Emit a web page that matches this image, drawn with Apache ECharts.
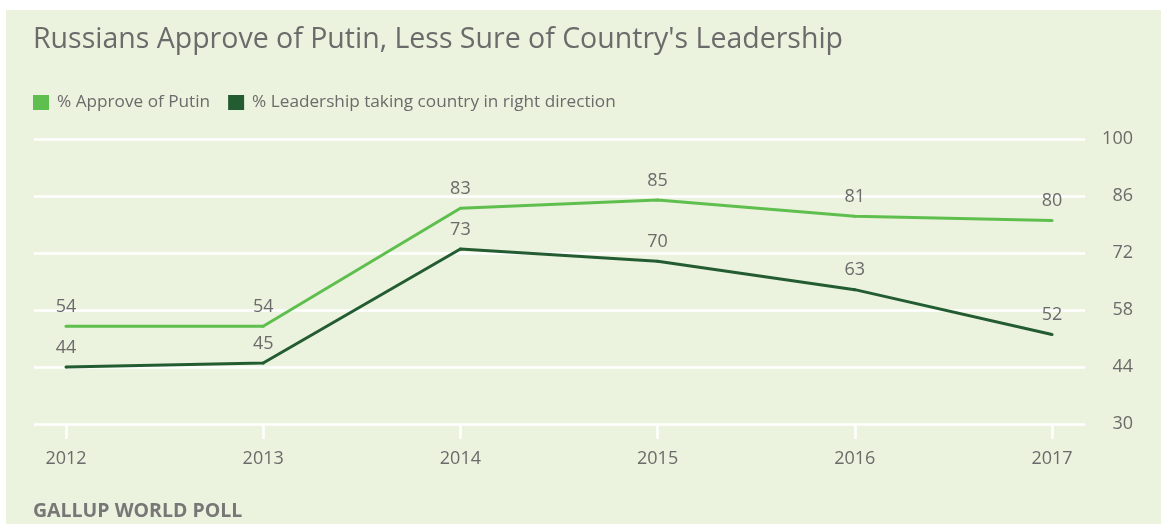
<!DOCTYPE html>
<html>
<head>
<meta charset="utf-8">
<script src="https://cdn.jsdelivr.net/npm/echarts@6/dist/echarts.min.js"></script>
<style>
html,body{margin:0;padding:0;background:#ffffff;width:1161px;height:524px;overflow:hidden;}
#bg{position:absolute;left:6px;top:10px;width:1155px;height:514px;background:#ebf2dd;}
#chart{width:1155px;height:514px;}
</style>
</head>
<body>
<div id="bg"><div id="chart"></div></div>
<script>
const years = ['2012','2013','2014','2015','2016','2017'];
const approvePutin = [54, 54, 83, 85, 81, 80];
const leadershipRight = [44, 45, 73, 70, 63, 52];
const yTicks = [30, 44, 58, 72, 86, 100];

const titleText = "Russians Approve of Putin, Less Sure of Country's Leadership";
const seriesNames = ['% Approve of Putin', '% Leadership taking country in right direction'];
const sourceText = 'GALLUP WORLD POLL';

const grey = '#6b6b6b';
const font = '"Open Sans", Roboto, sans-serif';
const lightGreen = '#5fbf4e';
const darkGreen = '#245c32';

const chart = echarts.init(document.getElementById('chart'), null, {renderer: 'canvas'});
const yMin = yTicks[0], yMax = yTicks[yTicks.length - 1], yStep = yTicks[1] - yTicks[0];

function labelCfg() {
  return {show: true, position: 'top', distance: 9, color: grey, fontSize: 18, fontFamily: font};
}

chart.setOption({
  backgroundColor: 'transparent',
  animation: false,
  textStyle: {fontFamily: font},
  title: {
    text: titleText, left: 22, top: 10,
    textStyle: {color: grey, fontSize: 28.5, fontWeight: 'normal', fontFamily: font}
  },
  legend: {
    left: 27, top: 84, padding: 0, itemWidth: 16, itemHeight: 15, itemGap: 18, icon: 'rect',
    textStyle: {color: grey, fontSize: 17.2, fontFamily: font, padding: [0, 0, 0, 3]},
    data: seriesNames
  },
  graphic: [{
    type: 'text', left: 27, top: 491,
    style: {text: sourceText, fill: '#777777', fontSize: 19.5, fontWeight: 'bold', fontFamily: font}
  }],
  grid: [
    {left: 60, right: 109, top: 129, bottom: 100},
    {left: 28, right: 76, top: 129, bottom: 100}
  ],
  xAxis: [
    {
      type: 'category', gridIndex: 0, data: years, boundaryGap: false,
      axisLine: {show: false},
      axisTick: {show: true, length: 15, lineStyle: {color: '#ffffff', width: 2.5}},
      axisLabel: {color: grey, fontSize: 18, margin: 26, fontFamily: font},
      splitLine: {show: false}
    },
    {
      type: 'value', gridIndex: 1, show: false, min: 0, max: 1
    }
  ],
  yAxis: [
    {
      type: 'value', gridIndex: 0, min: yMin, max: yMax, interval: yStep, show: false,
      splitLine: {show: false}
    },
    {
      type: 'value', gridIndex: 1, position: 'right', min: yMin, max: yMax, interval: yStep,
      axisLine: {show: false}, axisTick: {show: false},
      axisLabel: {color: grey, fontSize: 18, align: 'right', margin: 48, fontFamily: font},
      splitLine: {show: true, lineStyle: {color: '#ffffff', width: 2.5}}
    }
  ],
  series: [
    {
      name: seriesNames[0], type: 'line', xAxisIndex: 0, yAxisIndex: 0,
      data: approvePutin, symbol: 'circle', symbolSize: 3, showSymbol: true, color: lightGreen,
      itemStyle: {color: lightGreen},
      lineStyle: {color: lightGreen, width: 3}, label: labelCfg(), z: 3
    },
    {
      name: seriesNames[1], type: 'line', xAxisIndex: 0, yAxisIndex: 0,
      data: leadershipRight, symbol: 'circle', symbolSize: 3, showSymbol: true, color: darkGreen,
      itemStyle: {color: darkGreen},
      lineStyle: {color: darkGreen, width: 3}, label: labelCfg(), z: 3
    }
  ]
});
</script>
</body>
</html>
